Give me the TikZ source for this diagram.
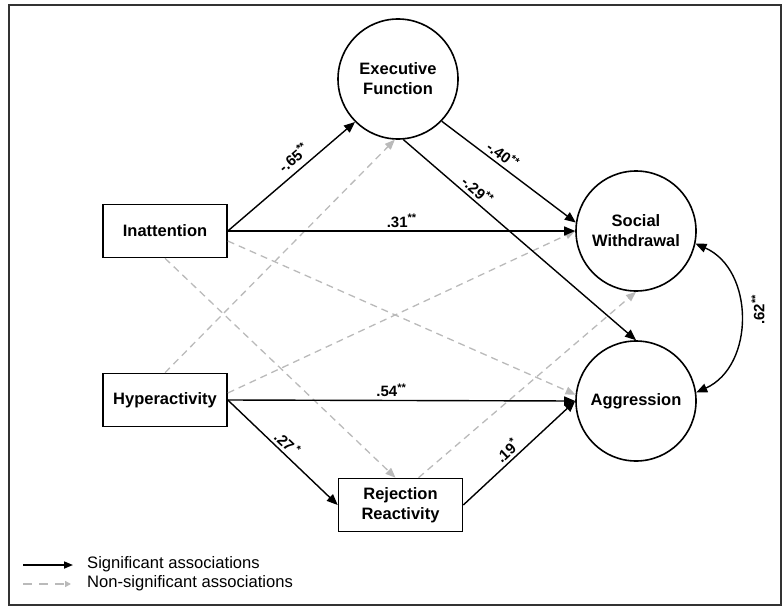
\documentclass[tikz,border=0pt]{standalone}
\usepackage{fontspec}
\setmainfont{Liberation Sans}
\usetikzlibrary{arrows.meta,calc}
\newcommand\sigstars[1]{\raisebox{0.36em}{\fontsize{11}{11}\selectfont #1}}
\begin{document}
\begin{tikzpicture}[x=1pt,y=-1pt,
  every node/.style={font=\fontsize{16.5}{20}\selectfont\bfseries, align=center},
  latent/.style={circle,draw,line width=1.6pt,minimum size=120pt,inner sep=0pt},
  observed/.style={rectangle,draw,line width=1.6pt,minimum width=124pt,minimum height=53pt,inner sep=0pt},
  sigpath/.style={line width=1.4pt,-{Triangle[length=11pt,width=9pt]}},
  nspath/.style={black!27,line width=1.3pt,dash pattern=on 7pt off 5pt,-{Triangle[length=10pt,width=8pt]}},
  coef/.style={font=\fontsize{15}{15}\selectfont\bfseries,sloped,above,inner sep=3pt},
  legendtext/.style={font=\fontsize{16.6}{17}\selectfont,anchor=west,inner sep=0pt}
]
\useasboundingbox (0,0) rectangle (783,607);
\draw[line width=1.2pt, black!80] (9,5) rectangle (781,605);

\node[latent] (ef) at (398,79) {Executive\\Function};
\node[latent] (sw) at (636,231) {Social\\Withdrawal};
\node[latent] (agg) at (636,401) {Aggression};
\node[observed] (inat) at (165,231) {Inattention};
\node[observed] (hyp) at (165,400) {Hyperactivity};
\node[observed] (rr) at (400.5,505) {Rejection\\Reactivity};

% non-significant paths
\draw[nspath] ([yshift=-10pt]inat.east) -- (agg.174);
\draw[nspath] (inat.south) -- ([xshift=-5pt]rr.north);
\draw[nspath] (hyp.north) -- (ef.-93);
\draw[nspath] ([yshift=7pt]hyp.east) -- (sw.west);
\draw[nspath] ([xshift=18pt]rr.north) -- (sw.south);

% significant paths
\draw[sigpath] (inat.east) -- node[coef,pos=0.58,inner sep=6pt]{-.65\sigstars{**}} (ef.-135);
\draw[sigpath] (inat.east) -- node[coef,pos=0.5]{.31\sigstars{**}} (sw.west);
\draw[sigpath] (hyp.east) -- node[coef,pos=0.47]{.54\sigstars{**}} (agg.west);
\draw[sigpath] (hyp.east) -- node[coef,pos=0.48]{.27\,\sigstars{*}} (rr.west);
\draw[sigpath] (rr.east) -- node[coef,pos=0.45]{.19\sigstars{*}} (agg.west);
\draw[sigpath] (ef.-44) -- node[coef,pos=0.41]{-.40\sigstars{**}} (sw.172);
\draw[sigpath] (ef.-85) -- node[coef,pos=0.29]{-.29\sigstars{**}} (agg.north);

% correlation
\draw[line width=1.4pt,{Triangle[length=11pt,width=9pt]}-{Triangle[length=11pt,width=9pt]}]
  (sw.-12) .. controls ($(sw.-12)+(59,26)$) and ($(agg.8)+(59,-27)$) .. (agg.8);
\node[font=\fontsize{15}{15}\selectfont\bfseries,rotate=90] (r62) at (758,310) {.62\sigstars{**}};

% legend
\coordinate (l1a) at (23,565);
\coordinate (l1b) at (73,565);
\coordinate (l2a) at (23,584);
\coordinate (l2b) at (71,584);
\draw[line width=1.6pt,-{Triangle[length=9pt,width=7pt]}] (l1a) -- (l1b);
\draw[black!27,line width=1.5pt,dash pattern=on 9pt off 7pt,-{Triangle[length=6pt,width=6pt]}] (l2a) -- (l2b);
\node[legendtext] (lt1) at (87,564) {Significant associations};
\node[legendtext] (lt2) at (87,583) {Non-significant associations};
\end{tikzpicture}
\end{document}
